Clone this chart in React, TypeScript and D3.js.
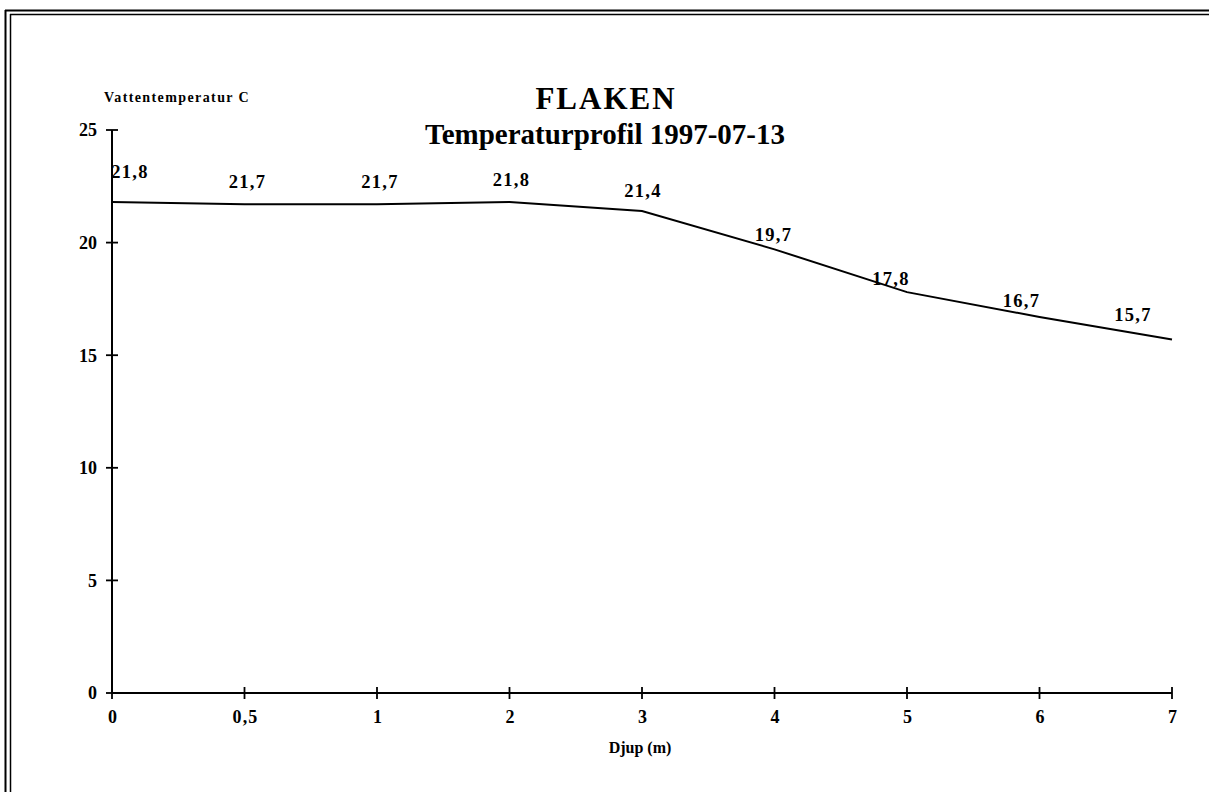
import React from "react";
import * as d3 from "d3";

const depths = ["0", "0,5", "1", "2", "3", "4", "5", "6", "7"];
const temps = [21.8, 21.7, 21.7, 21.8, 21.4, 19.7, 17.8, 16.7, 15.7];
const tempLabels = ["21,8", "21,7", "21,7", "21,8", "21,4", "19,7", "17,8", "16,7", "15,7"];
const yTicks = [0, 5, 10, 15, 20, 25];
// label placement offsets relative to each point (dx, dy of baseline)
const labelDx = [17, 2, 2, 1, 0, -2, -17, -19, -40];
const labelDy = [-24, -16, -16, -16, -14, -8, -7, -10, -18];

const W = 1209;
const H = 792;
const font = "'Liberation Serif', 'Times New Roman', serif";

export default function App() {
  const x = d3.scalePoint<string>().domain(depths).range([112, 1172]);
  const y = d3.scaleLinear().domain([0, 25]).range([693, 130]);
  const line = d3
    .line<number>()
    .x((_, i) => x(depths[i]) as number)
    .y((d) => y(d));

  return (
    <svg
      width={W}
      height={H}
      style={{ position: "absolute", left: 0, top: 0, background: "#fff" }}
      fontFamily={font}
    >
      <rect x={0} y={0} width={W} height={H} fill="#fff" />
      {/* frame */}
      <line x1={5} y1={10.5} x2={W} y2={10.5} stroke="#000" strokeWidth={2} />
      <line x1={10} y1={14.5} x2={W} y2={14.5} stroke="#000" strokeWidth={1.5} />
      <line x1={5.5} y1={10} x2={5.5} y2={H} stroke="#000" strokeWidth={2} />
      <line x1={10.5} y1={14} x2={10.5} y2={H} stroke="#000" strokeWidth={1.5} />

      {/* titles */}
      <text x={606} y={109} textAnchor="middle" fontWeight="bold" fontSize={31} letterSpacing={2}>
        FLAKEN
      </text>
      <text x={605} y={144} textAnchor="middle" fontWeight="bold" fontSize={29}>
        Temperaturprofil 1997-07-13
      </text>
      <text x={104} y={102} fontWeight="bold" fontSize={14} letterSpacing={1.4}>
        Vattentemperatur C
      </text>

      {/* y axis */}
      <line x1={112} y1={y(25)} x2={112} y2={y(0)} stroke="#000" strokeWidth={2} />
      {yTicks.map((t) => (
        <g key={t}>
          <line x1={106} x2={118} y1={y(t)} y2={y(t)} stroke="#000" strokeWidth={1.8} />
          <text
            x={97}
            y={y(t)}
            dy="0.35em"
            textAnchor="end"
            fontWeight="bold"
            fontSize={18}
          >
            {t}
          </text>
        </g>
      ))}

      {/* x axis */}
      <line x1={112} y1={y(0)} x2={1172} y2={y(0)} stroke="#000" strokeWidth={2} />
      {depths.map((d) => (
        <g key={d}>
          <line
            x1={x(d)}
            x2={x(d)}
            y1={y(0) - 6}
            y2={y(0) + 6}
            stroke="#000"
            strokeWidth={1.8}
          />
          <text
            x={(x(d) as number) + 1}
            y={723}
            textAnchor="middle"
            fontWeight="bold"
            fontSize={18}
            letterSpacing={1.2}
          >
            {d}
          </text>
        </g>
      ))}
      <text x={640} y={753} textAnchor="middle" fontWeight="bold" fontSize={16}>
        Djup (m)
      </text>

      {/* series */}
      <path d={line(temps) || ""} fill="none" stroke="#000" strokeWidth={2} />
      {temps.map((v, i) => (
        <text
          key={i}
          x={(x(depths[i]) as number) + labelDx[i] + 1}
          y={y(v) + labelDy[i]}
          textAnchor="middle"
          fontWeight="bold"
          fontSize={18.5}
          letterSpacing={1.3}
        >
          {tempLabels[i]}
        </text>
      ))}
    </svg>
  );
}
